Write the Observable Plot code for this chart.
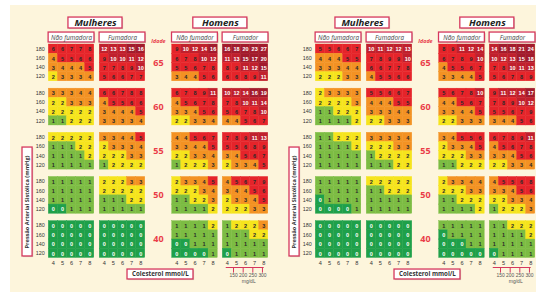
<!DOCTYPE html>
<html><head><meta charset="utf-8">
<script src="https://cdn.jsdelivr.net/npm/d3@7"></script>
<script src="https://cdn.jsdelivr.net/npm/@observablehq/plot@0.6"></script>
<style>html,body{margin:0;padding:0;background:#fff;} svg{display:block}</style>
</head><body><div id="chart"></div>
<script>
// ---------- DATA ----------
const ages = [65, 60, 55, 50, 40];
const pressures = [180, 160, 140, 120];
const cholesterol = [4, 5, 6, 7, 8];
const mgdlTicks = [150, 200, 250, 300];
const sexLabels = ["Mulheres", "Homens"];
const groupLabels = ["Não fumadora", "Fumadora", "Não fumador", "Fumador"];
const ageTitle = "Idade";
const yTitle = "Pressão Arterial Sistólica (mmHg)";
const xTitle = "Colesterol mmol/L";
const mgdlUnit = "mg/dL";

// Left panel (rows: age blocks 65..40, each 180/160/140/120 x chol 4..8)
const leftWomenNonSmoker = [
  [[6,6,7,7,8],[4,5,5,6,6],[3,4,4,4,5],[2,3,3,3,4]],
  [[3,3,3,4,4],[2,2,3,3,3],[2,2,2,2,2],[1,1,2,2,2]],
  [[2,2,2,2,2],[1,1,1,2,2],[1,1,1,1,2],[1,1,1,1,1]],
  [[1,1,1,1,1],[1,1,1,1,1],[1,1,1,1,1],[0,0,1,1,1]],
  [[0,0,0,0,0],[0,0,0,0,0],[0,0,0,0,0],[0,0,0,0,0]]
];
const leftWomenSmoker = [
  [[12,13,13,15,16],[9,10,10,11,12],[7,7,8,9,10],[5,6,6,7,7]],
  [[6,6,7,8,8],[4,5,5,6,6],[3,4,4,4,5],[3,3,3,3,4]],
  [[3,3,4,4,5],[2,3,3,3,4],[2,2,2,3,3],[1,2,2,2,2]],
  [[2,2,2,3,3],[2,2,2,2,2],[1,1,1,2,2],[1,1,1,1,1]],
  [[0,0,0,0,0],[0,0,0,0,0],[0,0,0,0,0],[0,0,0,0,0]]
];
const leftMenNonSmoker = [
  [[9,10,12,14,16],[6,7,8,10,12],[5,5,6,7,8],[3,4,4,5,6]],
  [[6,7,8,9,11],[4,5,6,7,8],[3,3,4,5,6],[2,2,3,3,4]],
  [[4,4,5,6,7],[3,3,4,4,5],[2,2,3,3,4],[1,2,2,2,3]],
  [[2,3,3,4,5],[2,2,2,3,4],[1,1,2,2,3],[1,1,1,1,2]],
  [[1,1,1,1,2],[1,1,1,1,1],[0,0,1,1,1],[0,0,0,0,1]]
];
const leftMenSmoker = [
  [[16,18,20,23,27],[11,13,15,17,20],[8,9,11,12,15],[6,6,8,9,11]],
  [[10,12,14,16,19],[7,8,10,11,14],[5,6,7,8,10],[4,4,5,6,7]],
  [[7,8,9,11,13],[5,5,6,8,9],[3,4,5,6,7],[2,3,3,4,5]],
  [[4,5,6,7,9],[3,4,4,5,6],[2,3,3,4,5],[2,2,2,3,3]],
  [[1,2,2,2,3],[1,1,1,2,2],[1,1,1,1,1],[0,1,1,1,1]]
];
// Right panel
const rightWomenNonSmoker = [
  [[5,5,6,6,7],[4,4,4,5,5],[3,3,3,4,4],[2,2,2,3,3]],
  [[2,3,3,3,3],[2,2,2,2,3],[1,1,2,2,2],[1,1,1,1,2]],
  [[1,1,2,2,2],[1,1,1,1,2],[1,1,1,1,1],[1,1,1,1,1]],
  [[1,1,1,1,1],[1,1,1,1,1],[0,1,1,1,1],[0,0,0,0,1]],
  [[0,0,0,0,0],[0,0,0,0,0],[0,0,0,0,0],[0,0,0,0,0]]
];
const rightWomenSmoker = [
  [[10,11,12,12,13],[7,8,9,9,10],[6,6,7,7,8],[4,5,5,6,6]],
  [[5,5,6,6,7],[4,4,4,5,5],[3,3,3,4,4],[2,2,3,3,3]],
  [[3,3,3,3,4],[2,2,2,3,3],[1,2,2,2,2],[1,1,1,2,2]],
  [[2,2,2,2,2],[1,1,2,2,2],[1,1,1,1,1],[1,1,1,1,1]],
  [[0,0,0,0,0],[0,0,0,0,0],[0,0,0,0,0],[0,0,0,0,0]]
];
const rightMenNonSmoker = [
  [[8,9,11,12,14],[6,7,8,9,10],[4,5,5,6,7],[3,3,4,4,5]],
  [[5,6,7,8,10],[4,4,5,6,7],[3,3,4,4,5],[2,2,3,3,3]],
  [[3,4,5,5,6],[2,3,3,4,5],[2,2,2,3,3],[1,1,2,2,2]],
  [[2,3,3,4,4],[2,2,2,3,3],[1,1,2,2,2],[1,1,1,1,2]],
  [[1,1,1,1,1],[0,1,1,1,1],[0,0,0,1,1],[0,0,0,0,0]]
];
const rightMenSmoker = [
  [[14,16,18,21,24],[10,12,13,15,18],[7,8,10,11,13],[5,6,7,8,9]],
  [[9,11,12,14,17],[7,8,9,10,12],[5,5,6,7,9],[3,4,4,5,6]],
  [[6,7,8,9,11],[4,5,6,7,8],[3,3,4,5,6],[2,2,3,3,4]],
  [[4,5,5,6,8],[3,3,4,5,6],[2,2,3,3,4],[1,2,2,2,3]],
  [[1,1,2,2,2],[1,1,1,1,2],[1,1,1,1,1],[0,1,1,1,1]]
];

// ---------- LAYOUT (in cell units) ----------
const CW = 9.1, RH = 9.2, X0 = 48.3, Y0 = 44, W = 536, H = 292;
const panelOffset = [0, 267 / CW];
const groupStart = [0, 5.6, 13.56, 19.12];
const blockPitch = 4.8;
const panels = [
  [leftWomenNonSmoker, leftWomenSmoker, leftMenNonSmoker, leftMenSmoker],
  [rightWomenNonSmoker, rightWomenSmoker, rightMenNonSmoker, rightMenSmoker]
];

const cells = [];
panels.forEach((groups, p) => groups.forEach((blocks, g) => blocks.forEach((rows, k) => rows.forEach((vals, r) => vals.forEach((v, c) => {
  const x1 = panelOffset[p] + groupStart[g] + c;
  const y1 = k * blockPitch + r;
  cells.push({p, g, age: ages[k], sbp: pressures[r], chol: cholesterol[c], v, x1, x2: x1 + 1, y1, y2: y1 + 1});
})))));

const ytk = [], xtk = [], ageLbl = [], subBoxes = [], headBoxes = [], yBoxes = [], cBoxes = [], mgT = [], mgLines = [], idade = [], mgUnit = [];
panelOffset.forEach((P, p) => {
  ages.forEach((a, k) => {
    ageLbl.push({x: P + 12.05, y: k * blockPitch + 2, t: String(a)});
    pressures.forEach((s, r) => ytk.push({x: P - 0.45, y: k * blockPitch + r + 0.5, t: String(s)}));
  });
  groupStart.forEach((gs, g) => {
    cholesterol.forEach((c, i) => xtk.push({x: P + gs + i + 0.5, y: 23.72, t: String(c)}));
    subBoxes.push({x1: P + gs - 0.02, x2: P + gs + 5.02, y1: -1.3, y2: -0.22, xc: P + gs + 2.5, yc: -0.76, t: groupLabels[g]});
  });
  [5.13, 18.85].forEach((cx, s) => headBoxes.push({x1: P + cx - 2.97, x2: P + cx + 2.97, y1: -2.93, y2: -1.74, xc: P + cx, yc: -2.33, t: sexLabels[s]}));
  yBoxes.push({x1: P - 2.89, x2: P - 1.78, y1: 11.2, y2: 23.04, xc: P - 2.335, yc: 17.12, t: yTitle});
  cBoxes.push({x1: P + 8.65, x2: P + 15.9, y1: 24.46, y2: 25.54, xc: P + 12.27, yc: 25.0, t: xTitle});
  idade.push({x: P + 12.05, y: -0.38, t: ageTitle});
  const ms = P + groupStart[3];
  mgLines.push({x1: ms + 0.38, x2: ms + 4.55, y: 24.24});
  mgdlTicks.forEach(m => mgT.push({x: ms + 0.5 + 0.68 + (m - 150) / 50 * 1.06, t: String(m)}));
  mgUnit.push({x: ms + 2.85, y: 25.78, t: mgdlUnit});
});

const xDomain = [-X0 / CW, (W - X0) / CW];
const yDomain = [-Y0 / RH, (H - Y0) / RH];
const boxStroke = "#d6385d";
const font = "'Open Sans', 'DejaVu Sans', sans-serif";
const numFont = "'Liberation Sans Narrow', 'Liberation Sans', Arial, sans-serif";
const smallFont = "'Liberation Sans', Arial, sans-serif";

function boxMarks(data) {
  return [
    Plot.rect(data, {x1: d => d.x1 + 0.12, x2: d => d.x2 + 0.12, y1: d => d.y1 + 0.12, y2: d => d.y2 + 0.12, fill: "#cfc8b8"}),
    Plot.rect(data, {x1: "x1", x2: "x2", y1: "y1", y2: "y2", fill: "white", stroke: boxStroke, strokeWidth: 1.3})
  ];
}

const chart = Plot.plot({
  width: W, height: H,
  margin: 0,
  x: {domain: xDomain, range: [0, W], axis: null},
  y: {domain: yDomain, range: [0, H], axis: null},
  color: {type: "threshold", domain: [1, 2, 3, 5, 10, 15],
          range: ["#1fa04a", "#7cbc43", "#f6e41c", "#f39223", "#e5242a", "#c0202d", "#a21b2c"]},
  style: {fontFamily: font, background: "white"},
  marks: [
    Plot.rect([{}], {x1: (10 - X0) / CW, x2: xDomain[1], y1: (5 - Y0) / RH, y2: yDomain[1], fill: "#fdf5dc"}),
    Plot.rect(cells, {x1: "x1", x2: "x2", y1: "y1", y2: "y2", fill: "v", stroke: "v", strokeWidth: 0.4}),
    Plot.text(cells.filter(d => d.v > 0 && d.v < 10), {x: d => d.x1 + 0.5, y: d => d.y1 + 0.55, text: "v", fill: "#2a2a2a", fontSize: 5.5, fontWeight: "bold", fontFamily: numFont}),
    Plot.text(cells.filter(d => d.v === 0 || d.v >= 10), {x: d => d.x1 + 0.5, y: d => d.y1 + 0.55, text: "v", fill: "white", fontSize: 5.5, fontWeight: "bold", fontFamily: numFont}),
    ...boxMarks(headBoxes),
    Plot.text(headBoxes, {x: "xc", y: "yc", text: "t", fontSize: 9.6, fontWeight: "bold", fontStyle: "italic", fill: "#222"}),
    ...boxMarks(subBoxes),
    Plot.text(subBoxes, {x: "xc", y: "yc", text: "t", fontSize: 6.3, fontStyle: "italic", fill: "#444"}),
    ...boxMarks(yBoxes),
    Plot.text(yBoxes, {x: "xc", y: "yc", text: "t", rotate: -90, fontSize: 5.6, fontWeight: "bold", fill: "#333"}),
    ...boxMarks(cBoxes),
    Plot.text(cBoxes, {x: "xc", y: "yc", text: "t", fontSize: 6.2, fontWeight: "bold", fill: "#333"}),
    Plot.text(idade, {x: "x", y: "y", text: "t", fontSize: 5.4, fontWeight: "bold", fontStyle: "italic", fill: "#e8404a"}),
    Plot.text(ageLbl, {x: "x", y: "y", text: "t", fontSize: 9, fontWeight: "bold", fill: "#ea3c48"}),
    Plot.text(ytk, {x: "x", y: "y", text: "t", textAnchor: "end", fontSize: 5.4, fill: "#333", fontFamily: smallFont}),
    Plot.text(xtk, {x: "x", y: "y", text: "t", fontSize: 5.6, fill: "#333", fontFamily: smallFont}),
    Plot.ruleY(mgLines, {y: "y", x1: "x1", x2: "x2", stroke: "#d6385d", strokeWidth: 1.2}),
    Plot.ruleX(mgT, {x: "x", y1: 24.24, y2: 24.85, stroke: "#d6385d", strokeWidth: 1}),
    Plot.text(mgT, {x: "x", y: 25.12, text: "t", fontSize: 4.9, fill: "#555", fontFamily: smallFont, letterSpacing: -0.2}),
    Plot.text(mgUnit, {x: "x", y: "y", text: "t", fontSize: 5, fill: "#555", fontFamily: smallFont})
  ]
});
document.getElementById("chart").append(chart);
</script>
</body></html>
